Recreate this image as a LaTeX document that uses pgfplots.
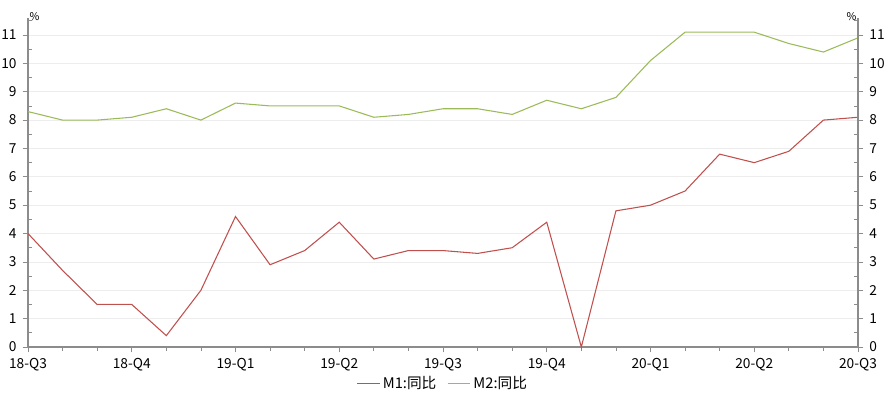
\documentclass[border=0pt]{standalone}
\usepackage{pgfplots}
\pgfplotsset{compat=1.18}
\usepackage{fontspec}
\setmainfont{Noto Sans CJK SC}
\definecolor{mone}{HTML}{C0504D}
\definecolor{mtwo}{HTML}{9BBB59}
\definecolor{axgray}{HTML}{8C8C8C}
\definecolor{gridc}{HTML}{EDEDED}
\pgfplotstableread{
x m1 m2
0 4.0 8.3
1 2.7 8.0
2 1.5 8.0
3 1.5 8.1
4 0.4 8.4
5 2.0 8.0
6 4.6 8.6
7 2.9 8.5
8 3.4 8.5
9 4.4 8.5
10 3.1 8.1
11 3.4 8.2
12 3.4 8.4
13 3.3 8.4
14 3.5 8.2
15 4.4 8.7
16 0.0 8.4
17 4.8 8.8
18 5.0 10.1
19 5.5 11.1
20 6.8 11.1
21 6.5 11.1
22 6.9 10.7
23 8.0 10.4
24 8.1 10.9
}\datatable
\pgfplotsset{
  base/.style={
    scale only axis, width=622.5pt, height=246.75pt,
    xmin=0, xmax=24, ymin=0, ymax=11.6,
    clip=false,
    ytick={0,1,...,11},
    minor ytick={0.5,1.5,...,11.5},
    tick align=outside,
    major tick length=4pt, minor tick length=3pt,
    every tick/.style={axgray, line width=0.6pt},
    axis line style={axgray, line width=0.8pt, -},
    tick label style={font=\fontsize{10.3}{12}\selectfont, text=black},
    /pgf/number format/assume math mode=true,
  }
}
\begin{document}
\begin{tikzpicture}
\path[use as bounding box] (-21pt,-42pt) rectangle (646.5pt,260.25pt);
\begin{axis}[base,
  axis x line*=bottom, axis y line*=left,
  xtick={0,3,...,24},
  xticklabels={18-Q3,18-Q4,19-Q1,19-Q2,19-Q3,19-Q4,20-Q1,20-Q2,20-Q3},
  minor xtick={1,2,4,5,7,8,10,11,13,14,16,17,19,20,22,23},
  minor y tick style={xshift=3pt},
  ymajorgrids, grid style={gridc, line width=0.5pt},
  yticklabel style={xshift=-1pt},
  xticklabel style={yshift=-1pt},
  legend style={at={(0.5,-0.112)}, anchor=center, draw=none, fill=none,
    legend columns=2, font=\fontsize{11}{13}\selectfont,
    /tikz/every even column/.append style={column sep=6pt}},
]
\addplot[mone, line width=0.8pt] table[x=x,y=m1]{\datatable};
\addlegendentry{M1:同比}
\addplot[mtwo, line width=0.8pt] table[x=x,y=m2]{\datatable};
\addlegendentry{M2:同比}
\node[anchor=west, font=\fontsize{8}{9}\selectfont, inner sep=1pt] at ([yshift=1pt]rel axis cs:0,1) {\%};
\end{axis}
\begin{axis}[base,
  axis x line=none, axis y line*=right,
  minor y tick style={xshift=-3pt},
  yticklabel style={xshift=1pt},
]
\addplot[draw=none] coordinates {(0,0)};
\node[anchor=east, font=\fontsize{8}{9}\selectfont, inner sep=1pt] at ([yshift=1pt]rel axis cs:1,1) {\%};
\end{axis}
\end{tikzpicture}
\end{document}
